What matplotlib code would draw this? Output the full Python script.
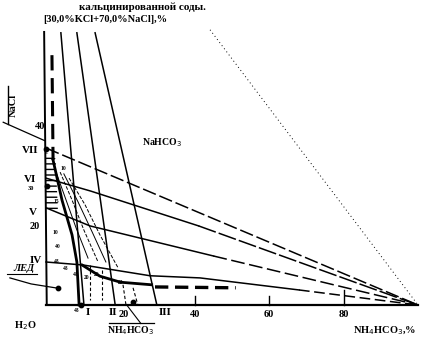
import matplotlib.pyplot as plt

# --- data: diagram (x = NH4HCO3 %, y = salt %) ---
apex = (100.0, 0.0)

# rays from the salt axis to the NH4HCO3 apex
ray_vii_x = [0.0, 100.0]
ray_vii_y = [36.5, 0.0]
ray_vi_x = [0.0, 12.0, 41.0, 100.0]
ray_vi_y = [29.5, 26.5, 18.4, 0.0]
ray_v_x = [0.0, 11.8, 45.0, 100.0]
ray_v_y = [22.6, 18.4, 11.4, 0.0]
ray_iv_x = [0.0, 10.0, 28.0, 41.4, 68.0, 100.0]
ray_iv_y = [10.0, 9.3, 6.8, 6.3, 3.5, 0.0]

# near-vertical rays from the top
axis_x = [-0.5, 0.2]
axis_y = [63.5, 0.0]
ray_b_x = [1.6, 1.9]
ray_b_y = [58.1, 33.7]
ray_i_x = [4.0, 10.2]
ray_i_y = [63.3, 0.0]
ray_ii_x = [8.3, 18.6]
ray_ii_y = [63.3, 0.0]
ray_iii_x = [13.2, 29.8]
ray_iii_y = [63.3, 0.0]

# dotted line to the apex
dot_x = [44.1, 100.0]
dot_y = [64.0, 0.0]

# ice boundary and bold eutonic curve
ice_x = [1.9, 4.3, 7.0, 8.3, 8.9]
ice_y = [33.7, 24.4, 16.3, 10.0, 0.0]
bold_x = [9.7, 14.5, 20.0, 28.4]
bold_y = [9.3, 6.7, 5.3, 4.7]
bold_dash_x = [29.3, 51.0]
bold_dash_y = [4.2, 4.0]

# fan of thin isotherms inside the salt field
fan = [
    ([2.7, 5.4, 8.1, 11.3], [30.9, 24.4, 17.9, 10.9], "-"),
    ([3.8, 7.0, 10.2, 14.0], [30.9, 24.4, 17.4, 10.0], "--"),
    ([4.8, 8.6, 12.4, 16.1], [30.5, 24.0, 17.0, 10.0], "-"),
    ([6.2, 10.5, 14.5, 19.4], [29.5, 23.3, 16.3, 8.6], "--"),
]
short_x = [(11.8, 11.8), (15.1, 15.1), (20.7, 21.5), (23.4, 24.7)]
short_y = [(9.3, 1.2), (8.1, 1.2), (4.7, 0.0), (4.0, 0.0)]

hatch_x = [0.0, 2.6, 3.2, 0.0]
hatch_y = [35.5, 34.0, 22.0, 22.0]

points_x = [0.1, 0.3, 9.5, 3.2, 23.4]
points_y = [36.2, 27.7, 0.0, 3.9, 0.7]

x_ticks = [20, 40, 60, 80]
x_tick_labels = ["20", "40", "60", "80"]
small_nums = [("10", 4.6, 31.8), ("15", 2.7, 24.0), ("10", 2.4, 16.8),
              ("40", 3.2, 13.5), ("43", 3.0, 10.2), ("43", 5.4, 8.4),
              ("43", 8.1, 7.0), ("20", 10.8, 6.5), ("20", 13.7, 7.2),
              ("23", 20.0, 5.2), ("43", 8.3, -1.3)]

# pixel mapping of the scan: x_px = 46 + 3.72 x, y_px = 305 - 4.3 y
X0, SX, Y0, SY = 46, 3.72, 305, 4.3
W, H = 426, 341

fig = plt.figure(figsize=(W / 100, H / 100), dpi=100)
ax = fig.add_axes([0, 0, 1, 1])
ax.set_xlim(-X0 / SX, (W - X0) / SX)
ax.set_ylim((Y0 - H) / SY, Y0 / SY)
ax.axis("off")

serif = "Liberation Serif"
k = "black"
lw = 1.1

# base axis and ticks
ax.plot([0, 100], [0, 0], color=k, lw=1.6)
for t in x_ticks[1:]:
    ax.plot([t, t], [0, 2.0 if t < 80 else 3.5], color=k, lw=1.0)

ax.plot(axis_x, axis_y, color=k, lw=1.4)
ax.plot(ray_b_x, ray_b_y, color=k, lw=2.2, dashes=(5, 2.5))
for xs, ys in [(ray_i_x, ray_i_y), (ray_ii_x, ray_ii_y), (ray_iii_x, ray_iii_y)]:
    ax.plot(xs, ys, color=k, lw=lw)

ax.plot(ray_vii_x, ray_vii_y, color=k, lw=lw, dashes=(9, 2.5))
ax.plot(ray_vi_x[:3], ray_vi_y[:3], color=k, lw=lw)
ax.plot(ray_vi_x[2:], ray_vi_y[2:], color=k, lw=lw, dashes=(12, 2))
ax.plot(ray_v_x[:3], ray_v_y[:3], color=k, lw=lw)
ax.plot(ray_v_x[2:], ray_v_y[2:], color=k, lw=lw, dashes=(9, 3))
ax.plot(ray_iv_x[:5], ray_iv_y[:5], color=k, lw=lw)
ax.plot(ray_iv_x[4:], ray_iv_y[4:], color=k, lw=lw, dashes=(7, 3))
ax.plot(dot_x, dot_y, color=k, lw=0.7, dashes=(1, 3))

ax.plot(ice_x, ice_y, color=k, lw=2.0)
ax.plot(bold_x, bold_y, color=k, lw=2.0)
ax.plot(bold_dash_x, bold_dash_y, color=k, lw=2.4, dashes=(4, 2))

for xs, ys, ls in fan:
    ax.plot(xs, ys, color=k, lw=0.7, linestyle=ls)
for xs, ys in zip(short_x, short_y):
    ax.plot(xs, ys, color=k, lw=0.8, dashes=(3, 2))

ax.fill(hatch_x, hatch_y, facecolor="none", edgecolor=k, hatch="---", lw=0)
ax.scatter(points_x, points_y, s=10, color=k, zorder=3)

# ice leader line
ax.plot([-9.7, -4.0, 3.2], [6.3, 4.9, 3.9], color=k, lw=0.9)

for txt, x, y in small_nums:
    ax.text(x, y, txt, fontsize=4, family=serif, weight="bold", ha="center", va="center")

# text labels
big = dict(family=serif, weight="bold", color=k)
ax.text(15.9, 66.4, "[30,0%KCl+70,0%NaCl],%", fontsize=7.5, ha="center", va="center", **big)
ax.text(26.0, 70.4, "кальцинированной соды.", fontsize=8, ha="center", va="top", **big)
ax.text(31.2, 37.7, "NaHCO$_3$", fontsize=7, ha="center", va="center", **big)
ax.text(-8.7, 46.5, "NaCl", fontsize=7.5, rotation=90, ha="center", va="center", **big)
ax.plot([-10.2, -10.2], [42.0, 51.0], color=k, lw=1.0)
ax.plot([-11.5, -0.3], [42.5, 38.2], color=k, lw=0.9)

ax.text(-1.6, 41.6, "40", fontsize=7.5, ha="center", va="center", **big)
ax.text(-4.3, 36.0, "VII", fontsize=8, ha="center", va="center", **big)
ax.text(-4.3, 29.3, "VI", fontsize=8, ha="center", va="center", **big)
ax.text(-4.1, 27.2, "30", fontsize=4.5, ha="center", va="center", **big)
ax.text(-3.5, 21.4, "V", fontsize=8, ha="center", va="center", **big)
ax.text(-3.0, 18.3, "20", fontsize=7.5, ha="center", va="center", **big)
ax.text(-2.7, 10.3, "IV", fontsize=8, ha="center", va="center", **big)
ax.text(-6.0, 8.6, "ЛЕД", fontsize=7.5, style="italic", ha="center", va="center", **big)
ax.plot([-10.5, -2.5], [7.3, 7.3], color=k, lw=0.8)
ax.text(-5.6, -4.8, "H$_2$O", fontsize=7.5, ha="center", va="center", **big)

ax.text(11.3, -1.8, "I", fontsize=8, ha="center", va="center", **big)
ax.text(17.9, -1.8, "II", fontsize=8, ha="center", va="center", **big)
ax.text(32.0, -1.8, "III", fontsize=8, ha="center", va="center", **big)
for t, lab in zip(x_ticks, x_tick_labels):
    ax.text(t + (1.0 if t == 20 else 0.0), -2.3, lab, fontsize=7.5, ha="center", va="center", **big)
ax.text(22.8, -5.9, "NH$_4$HCO$_3$", fontsize=7, ha="center", va="center", **big)
ax.plot([17.0, 29.0], [-4.3, -4.3], color=k, lw=0.9)
ax.plot([21.7, 25.5], [0.0, -4.3], color=k, lw=0.8)
ax.text(91.0, -5.9, "NH$_4$HCO$_3$,%", fontsize=7.5, ha="center", va="center", **big)

fig.savefig("out.png", dpi=100)
